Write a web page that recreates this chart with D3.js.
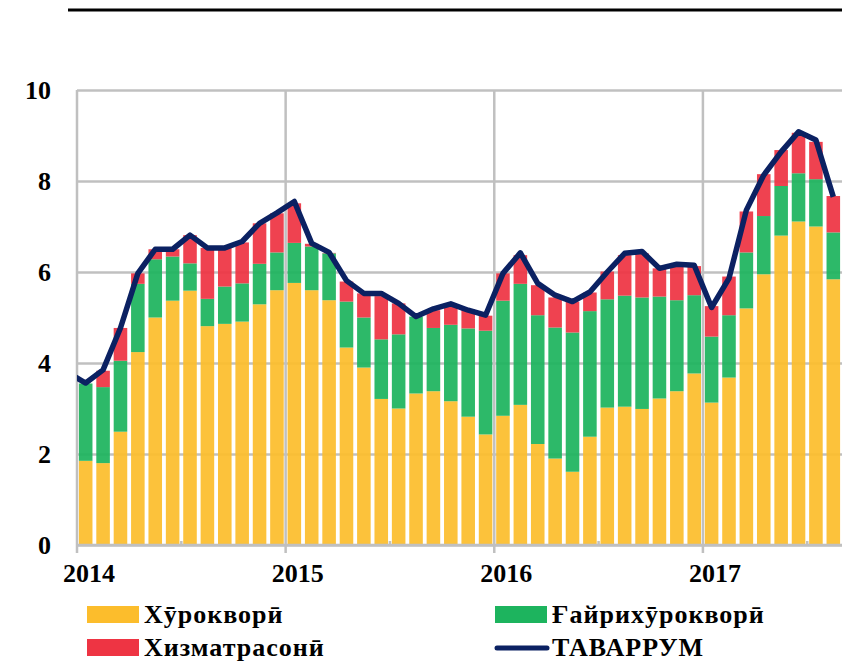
<!DOCTYPE html>
<html>
<head>
<meta charset="utf-8">
<script src="https://cdn.jsdelivr.net/npm/d3@7"></script>
<style>
  body { margin: 0; background: #fff; }
  svg text { font-family: "Liberation Serif", "DejaVu Serif", serif; font-weight: bold; fill: #000; }
</style>
</head>
<body>
<div id="chart"></div>
<script>
// monthly, Jan 2014 .. Aug 2017
var food    = [1.85,1.80,2.49,4.24,5.00,5.37,5.59,4.81,4.86,4.91,5.29,5.60,
               5.76,5.60,5.38,4.34,3.90,3.21,3.00,3.33,3.38,3.16,2.82,2.43,
               2.84,3.08,2.22,1.90,1.61,2.38,3.02,3.04,2.99,3.22,3.38,3.77,
               3.13,3.68,5.20,5.95,6.80,7.11,7.00,5.84];
var nonfood = [1.70,1.67,1.56,1.50,1.28,0.97,0.60,0.60,0.82,0.84,0.89,0.83,
               0.88,0.96,1.03,1.01,1.10,1.31,1.63,1.69,1.39,1.68,1.94,2.28,
               2.53,2.66,2.83,2.88,3.06,2.76,2.38,2.44,2.45,2.24,2.00,1.72,
               1.45,1.37,1.23,1.28,1.09,1.06,1.04,1.03];
var services= [0.00,0.36,0.72,0.23,0.22,0.16,0.62,1.12,0.85,0.90,0.89,0.86,
               0.87,0.06,0.01,0.44,0.53,0.95,0.68,0.00,0.39,0.42,0.42,0.33,
               0.60,0.63,0.66,0.66,0.68,0.41,0.61,0.89,0.97,0.62,0.77,0.64,
               0.67,0.85,0.90,0.92,0.79,0.89,0.82,0.80];
// headline line, first value is Dec 2013
var total   = [3.78,3.56,3.85,4.77,5.97,6.50,6.50,6.81,6.53,6.53,6.67,7.07,7.30,
               7.55,6.63,6.43,5.81,5.53,5.53,5.31,5.02,5.19,5.30,5.16,5.05,
               5.97,6.42,5.75,5.49,5.35,5.56,6.00,6.41,6.45,6.08,6.17,6.15,
               5.22,5.86,7.36,8.13,8.64,9.08,8.90,7.65];
var years = ["2014","2015","2016","2017"];
var yTicks = [0,2,4,6,8,10];
var seriesNames = ["Хӯрокворӣ","Ғайрихӯрокворӣ","Хизматрасонӣ","ТАВАРРУМ"];
var colors = ["#fcbd2c","#1db45e","#ee3443","#0b2162"];

var width = 842, height = 662;
var margin = {top: 90, right: 0, bottom: 117, left: 77};
var plotW = width - margin.left - margin.right,
    plotH = height - margin.top - margin.bottom;

var svg = d3.select("#chart").append("svg")
    .attr("width", width)
    .attr("height", height);

// black rule at top
svg.append("line")
    .attr("x1", 68).attr("x2", width)
    .attr("y1", 10).attr("y2", 10)
    .attr("stroke", "#000").attr("stroke-width", 3);

var nMonths = food.length;
var x = d3.scaleLinear().domain([0, nMonths]).range([margin.left, margin.left + plotW]);
var y = d3.scaleLinear().domain([0, 10]).range([margin.top + plotH, margin.top]);

var grid = "#c0c0c0";

// horizontal grid
svg.append("g")
    .attr("transform", "translate(" + margin.left + ",0)")
    .call(d3.axisRight(y).tickValues(yTicks).tickSize(plotW).tickFormat(""))
    .call(function(g) { g.select(".domain").remove(); })
    .selectAll("line").attr("stroke", grid).attr("stroke-width", 2.5);

// vertical grid at year starts
svg.append("g")
    .selectAll("line")
    .data(years)
    .enter().append("line")
    .attr("x1", function(d, i) { return x(i * 12); })
    .attr("x2", function(d, i) { return x(i * 12); })
    .attr("y1", y(10)).attr("y2", y(0) + 8)
    .attr("stroke", grid).attr("stroke-width", 2.5);

// small mid-year ticks
svg.append("g")
    .selectAll("line")
    .data(years)
    .enter().append("line")
    .attr("x1", function(d, i) { return x(i * 12 + 6); })
    .attr("x2", function(d, i) { return x(i * 12 + 6); })
    .attr("y1", y(0)).attr("y2", y(0) - 4)
    .attr("stroke", grid).attr("stroke-width", 2.5);

// stacked bars
var rows = food.map(function(d, i) {
  return {i: i, food: food[i], nonfood: nonfood[i], services: services[i]};
});
var stack = d3.stack().keys(["food", "nonfood", "services"])(rows);
var step = x(1) - x(0);
var barW = step * 0.78;

svg.append("g")
    .selectAll("g")
    .data(stack)
    .enter().append("g")
    .attr("fill", function(d, k) { return colors[k]; })
    .attr("fill-opacity", 0.93)
    .selectAll("rect")
    .data(function(d) { return d; })
    .enter().append("rect")
    .attr("x", function(d) { return x(d.data.i + 0.5) - barW / 2; })
    .attr("width", barW)
    .attr("y", function(d) { return y(d[1]); })
    .attr("height", function(d) { return y(d[0]) - y(d[1]); });

// x axis line
svg.append("line")
    .attr("x1", margin.left).attr("x2", width)
    .attr("y1", y(0)).attr("y2", y(0))
    .attr("stroke", grid).attr("stroke-width", 2.5);

// headline line (clipped to plot)
svg.append("clipPath").attr("id", "clip")
  .append("rect")
    .attr("x", margin.left).attr("y", 0)
    .attr("width", plotW).attr("height", height);

var line = d3.line()
    .x(function(d, i) { return x(i - 0.5); })
    .y(function(d) { return y(d); });

svg.append("path")
    .datum(total)
    .attr("clip-path", "url(#clip)")
    .attr("fill", "none")
    .attr("stroke", colors[3])
    .attr("stroke-width", 5.5)
    .attr("stroke-linejoin", "round")
    .attr("d", line);

// y labels
svg.append("g")
    .selectAll("text")
    .data(yTicks)
    .enter().append("text")
    .attr("x", 51)
    .attr("y", function(d) { return y(d); })
    .attr("dy", "0.35em")
    .attr("text-anchor", "end")
    .style("font-size", "26px")
    .text(function(d) { return d; });

// x labels
svg.append("g")
    .selectAll("text")
    .data(years)
    .enter().append("text")
    .attr("x", function(d, i) { return x(i * 12) + 12; })
    .attr("y", 582)
    .attr("text-anchor", "middle")
    .style("font-size", "26px")
    .text(function(d) { return d; });

// legend
var legend = [
  {name: seriesNames[0], color: colors[0], x: 87,  y: 606, type: "rect"},
  {name: seriesNames[1], color: colors[1], x: 495, y: 606, type: "rect"},
  {name: seriesNames[2], color: colors[2], x: 87,  y: 639, type: "rect"},
  {name: seriesNames[3], color: colors[3], x: 495, y: 639, type: "line"}
];
var lg = svg.append("g").selectAll("g").data(legend).enter().append("g");
lg.filter(function(d) { return d.type === "rect"; })
  .append("rect")
    .attr("x", function(d) { return d.x; })
    .attr("y", function(d) { return d.y; })
    .attr("width", 52).attr("height", 17)
    .attr("fill", function(d) { return d.color; });
lg.filter(function(d) { return d.type === "line"; })
  .append("line")
    .attr("x1", function(d) { return d.x + 2; })
    .attr("x2", function(d) { return d.x + 52; })
    .attr("y1", function(d) { return d.y + 9; })
    .attr("y2", function(d) { return d.y + 9; })
    .attr("stroke", function(d) { return d.color; })
    .attr("stroke-width", 5)
    .attr("stroke-linecap", "round");
lg.append("text")
    .attr("x", function(d) { return d.x + 57; })
    .attr("y", function(d) { return d.y + 17; })
    .style("font-size", "26px")
    .style("letter-spacing", "1px")
    .text(function(d) { return d.name; });
</script>
</body>
</html>
